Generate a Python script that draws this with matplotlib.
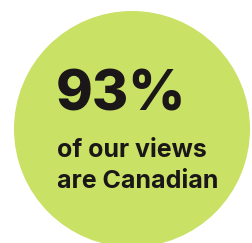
import matplotlib.pyplot as plt
from matplotlib.patches import Circle

share = 93
caption = ["of our views", "are Canadian"]

fig = plt.figure(figsize=(2.52, 2.43), dpi=100)
ax = fig.add_axes([0, 0, 1, 1])
ax.set_xlim(0, 252)
ax.set_ylim(243, 0)
ax.axis("off")

ax.add_patch(Circle((132, 129), 118, color="#c9e165", lw=0))

ax.text(56, 110, f"{share}%", fontsize=40, fontweight="heavy", family="Inter",
        color="#1b1718", ha="left", va="baseline")
ax.text(57, 157, caption[0], fontsize=18, fontweight="bold", family="Inter",
        color="#1b1718", ha="left", va="baseline")
ax.text(57, 188, caption[1], fontsize=18, fontweight="bold", family="Inter",
        color="#1b1718", ha="left", va="baseline")

fig.savefig("out.png", dpi=100)
